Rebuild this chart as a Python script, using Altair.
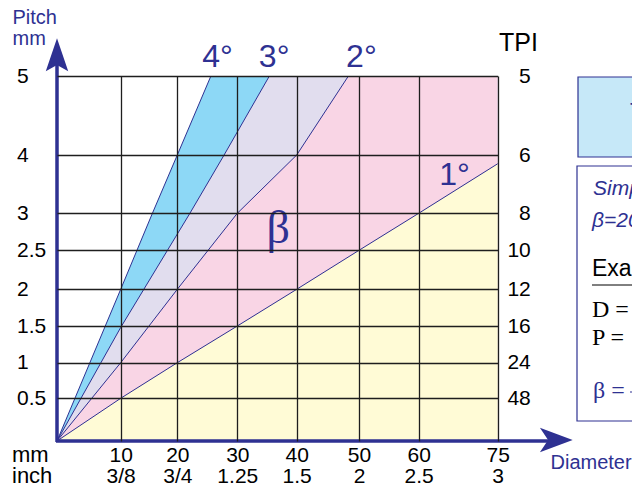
import altair as alt
import pandas as pd

# ---------------- data ----------------
diam_ticks = [10, 20, 30, 40, 50, 60, 75]
diam_inch = ["3/8", "3/4", "1.25", "1.5", "2", "2.5", "3"]
pitch_ticks = [0.5, 1, 1.5, 2, 2.5, 3, 4, 5]
tpi_labels = ["48", "24", "16", "12", "10", "8", "6", "5"]

# helix-angle lines: diameter (mm) vs pitch (mm)
line1_D = [0, 10, 20, 30, 40, 50, 60, 75]
line1_P = [0, 0.5, 1, 1.5, 2, 2.5, 3, 3.85]
line2_D = [0, 10, 20, 30, 40, 48.3]
line2_P = [0, 1, 2, 3, 4, 5]
line3_D = [0, 10, 22.1, 27.8, 35.4]
line3_P = [0, 1.48, 3, 4, 5]
line4_D = [0, 10, 15.6, 20, 25.6]
line4_P = [0, 2, 3, 4, 5]

angle_labels = ["1°", "2°", "3°", "4°"]
angle_label_D = [66.8, 50.4, 36.2, 26.7]
angle_label_P = [3.49, 5.11, 5.11, 5.11]

beta_D = [36.9]
beta_P = [2.6]

# ---------------- scales (axes are not evenly spaced) ----------------
x_break = [0, 10, 20, 30, 40, 50, 60, 75]
x_break_px = [0, 63.7, 120.3, 180.3, 239.7, 302, 361.7, 440.7]
y_break = [0, 0.5, 1, 1.5, 2, 2.5, 3, 4, 5]
y_break_px = [365, 322.3, 286.7, 250, 213.3, 174.3, 137.3, 79, 0]

W, H = 441, 365
BLUE = "#2e3192"
SANS = "Liberation Sans"
SERIF = "Liberation Serif"
GRID = "#1e1e1e"
band_colors = ["#fffbd6", "#f9d5e5", "#e1ddee", "#8dd8f6"]

xscale = alt.Scale(domain=x_break, range=x_break_px)
yscale = alt.Scale(domain=y_break, range=y_break_px)

inch_expr = " : ".join(
    f"datum.value == {v} ? '{s}'" for v, s in zip(diam_ticks, diam_inch)
) + " : ''"
tpi_expr = " : ".join(
    f"datum.value == {v} ? '{s}'" for v, s in zip(pitch_ticks, tpi_labels)
) + " : ''"

x_axis = alt.Axis(
    values=diam_ticks, labelExpr=f"[datum.label, {inch_expr}]",
    labelFont=SANS, labelFontSize=21, labelColor="black",
    labelBaseline="alphabetic", labelPadding=20.5, labelLineHeight=21,
    labelAngle=0, labelFlush=False, labelOverlap=False, domain=False,
    ticks=False, tickSize=0, grid=True, gridColor=GRID, gridWidth=1.3,
    gridOpacity=1, title="Diameter", titleFont=SANS, titleFontSize=20,
    titleFontWeight="normal", titleColor=BLUE, titleAlign="left",
    titleBaseline="alphabetic", titleX=493, titleY=27, zindex=1,
)

y_axis_left = alt.Axis(
    values=pitch_ticks, format="~g", labelFont=SANS, labelFontSize=21,
    labelColor="black", labelAlign="left", labelBaseline="middle",
    labelPadding=40.5, labelFlush=False, labelOverlap=False, domain=False,
    ticks=False, tickSize=0, grid=True, gridColor=GRID, gridWidth=1.3,
    gridOpacity=1, title=["Pitch", "mm"], titleAngle=0, titleAlign="left",
    titleBaseline="alphabetic", titleX=-45, titleY=-53, titleLineHeight=21,
    titleFont=SANS, titleFontSize=20, titleFontWeight="normal", titleColor=BLUE,
    zindex=1,
)

y_axis_right = alt.Axis(
    orient="right", values=pitch_ticks, labelExpr=tpi_expr,
    labelFont=SANS, labelFontSize=21, labelColor="black",
    labelAlign="right", labelBaseline="middle", labelPadding=32.3,
    labelFlush=False, labelOverlap=False, domain=False, ticks=False, tickSize=0,
    grid=False, title="TPI", titleAngle=0, titleAlign="center",
    titleBaseline="alphabetic", titleX=20, titleY=-26, titleFont=SANS,
    titleFontSize=25, titleFontWeight="normal", titleColor="black", zindex=1,
)


def X(field):
    return alt.X(field, type="quantitative", scale=xscale, axis=x_axis)


def Y(field, axis=None):
    return alt.Y(field, type="quantitative", scale=yscale, axis=axis)


layers = []

# ---- coloured bands (painted from steepest to flattest line) ----
bands = [
    (line4_D, line4_P, band_colors[3]),
    (line3_D, line3_P, band_colors[2]),
    (line2_D, line2_P, band_colors[1]),
    (line1_D, line1_P, band_colors[0]),
]
first = True
for D, P, col in bands:
    Dx, Py = list(D), list(P)
    if Dx[-1] < 75:
        Dx.append(75)
        Py.append(5)
    df = pd.DataFrame({"D": Dx, "P": Py, "P0": [0] * len(Dx)})
    layers.append(
        alt.Chart(df).mark_area(color=col, opacity=1).encode(
            x=X("D"), y=Y("P", y_axis_left if first else None), y2="P0"
        )
    )
    first = False

# ---- angle lines ----
for D, P in [(line1_D, line1_P), (line2_D, line2_P), (line3_D, line3_P), (line4_D, line4_P)]:
    df = pd.DataFrame({"D": D, "P": P})
    layers.append(
        alt.Chart(df).mark_line(color=BLUE, strokeWidth=1).encode(x=X("D"), y=Y("P"))
    )

# ---- angle labels ----
df_lab = pd.DataFrame({"D": angle_label_D, "P": angle_label_P, "t": angle_labels})
layers.append(
    alt.Chart(df_lab).mark_text(
        font=SANS, fontSize=32, color=BLUE, align="center", baseline="alphabetic"
    ).encode(x=X("D"), y=Y("P"), text="t")
)

df_beta = pd.DataFrame({"D": beta_D, "P": beta_P, "t": ["β"]})
layers.append(
    alt.Chart(df_beta).mark_text(
        font=SERIF, fontSize=46, color=BLUE, align="center", baseline="alphabetic"
    ).encode(x=X("D"), y=Y("P"), text="t")
)

# ---- right axis (TPI) carrier ----
df_tpi = pd.DataFrame({"P": pitch_ticks})
layers.append(
    alt.Chart(df_tpi).mark_point(opacity=0).encode(y=Y("P", y_axis_right))
)

# ---- decorations: axis lines with arrow heads, row captions, side panel ----
one = pd.DataFrame({"a": [0]})
layers.append(alt.Chart(one).mark_rule(color=BLUE, strokeWidth=3.5).encode(
    x=alt.value(0), y=alt.value(H + 1), y2=alt.value(-12)))
layers.append(alt.Chart(one).mark_rule(color=BLUE, strokeWidth=3.5).encode(
    x=alt.value(-1), x2=alt.value(493), y=alt.value(H)))
arrow_up = "M0,-1L0.68,1L0,0.62L-0.68,1Z"
arrow_right = "M1,0L-1,-0.74L-0.5,0L-1,0.74Z"
layers.append(alt.Chart(one).mark_point(shape=arrow_up, filled=True, size=1089,
                                        color=BLUE, opacity=1, strokeWidth=0).encode(
    x=alt.value(0), y=alt.value(-21.2)))
layers.append(alt.Chart(one).mark_point(shape=arrow_right, filled=True, size=1076,
                                        color=BLUE, opacity=1, strokeWidth=0).encode(
    x=alt.value(499.3), y=alt.value(H - 1)))


def note(text, x, y, size, color="black", font=SANS, style="normal", align="left"):
    return alt.Chart(one).mark_text(
        text=text, font=font, fontSize=size, color=color, fontStyle=style,
        align=align, baseline="alphabetic"
    ).encode(x=alt.value(x), y=alt.value(y))


layers.append(note("mm", -45, 385.5, 22))
layers.append(note("inch", -45, 406.5, 22))

# side panel (cut off at the right edge)
layers.append(alt.Chart(one).mark_rect(fill="#c6e8f8", stroke=BLUE, strokeWidth=1.2).encode(
    x=alt.value(521), x2=alt.value(660), y=alt.value(1), y2=alt.value(81)))
layers.append(note("T", 573, 44, 23, BLUE))
layers.append(alt.Chart(one).mark_rect(fill="white", stroke=BLUE, strokeWidth=1.2).encode(
    x=alt.value(520), x2=alt.value(660), y=alt.value(90), y2=alt.value(345)))
layers.append(note("Simplified", 536, 119, 21, BLUE, style="italic"))
layers.append(note("β=20", 535, 151, 21, BLUE, style="italic"))
layers.append(note("Example", 535, 200, 23))
layers.append(alt.Chart(one).mark_rule(color="black", strokeWidth=1).encode(
    x=alt.value(535), x2=alt.value(660), y=alt.value(209)))
layers.append(note("D  =", 535, 241, 24, font=SERIF))
layers.append(note("P  =", 535, 269, 24, font=SERIF))
layers.append(note("β =", 536, 322, 24, BLUE, font=SERIF))
layers.append(alt.Chart(one).mark_rule(color=BLUE, strokeWidth=1.2).encode(
    x=alt.value(573), x2=alt.value(660), y=alt.value(316)))
layers.append(note("1", 575, 337, 22, BLUE, font=SERIF))

# total SVG kept at 624 x 476 so the page (with its 8px margins) fits 640 x 492
chart = alt.layer(*layers).resolve_scale(y="independent").properties(
    width=W, height=H,
    padding={"left": 49, "top": 68, "right": 134, "bottom": 43},
    autosize=alt.AutoSizeParams(type="none"),
).configure(font=SANS).configure_view(stroke=None)

chart.save("out.html", embed_options={"renderer": "svg", "actions": False})
